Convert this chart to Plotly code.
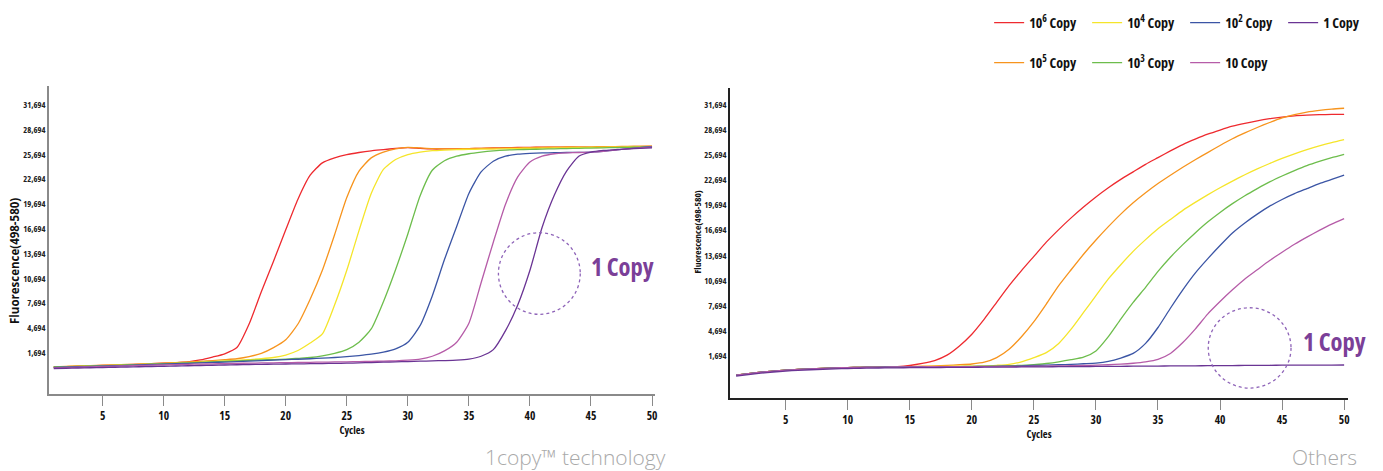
import plotly.graph_objects as go

cycles = list(range(1, 51))

series_names = ["10<sup>6</sup> Copy", "10<sup>5</sup> Copy", "10<sup>4</sup> Copy",
                "10<sup>3</sup> Copy", "10<sup>2</sup> Copy", "10 Copy", "1 Copy"]
series_colors = ["#ee2a2f", "#f7941d", "#f5e52a", "#6dbd4c", "#3b55a5", "#b65ca8", "#6a3494"]

# Left chart: 1copy technology
left_1e6 = [0, 40, 90, 150, 200, 240, 290, 340, 400, 460,
            530, 620, 850, 1200, 1600, 2350, 5200, 9100, 12800, 16600,
            20300, 23200, 24700, 25300, 25700, 25950, 26150, 26300, 26450, 26550,
            26450, 26380, 26380, 26400, 26430, 26460, 26500, 26530, 26560, 26580,
            26600, 26600, 26600, 26580, 26560, 26560, 26580, 26600, 26620, 26650]
left_1e5 = [0, 60, 120, 170, 210, 250, 300, 350, 410, 470,
            540, 610, 690, 780, 880, 1000, 1250, 1650, 2350, 3300,
            5200, 8200, 11700, 16000, 20500, 23700, 25300, 26000, 26400, 26580,
            26500, 26420, 26400, 26400, 26420, 26450, 26480, 26500, 26520, 26550,
            26570, 26600, 26620, 26630, 26640, 26650, 26670, 26700, 26720, 26750]
left_1e4 = [0, 40, 80, 130, 170, 210, 260, 310, 360, 420,
            480, 540, 600, 660, 730, 800, 900, 1000, 1150, 1450,
            2000, 2900, 4000, 7500, 11700, 16500, 21000, 23900, 25100, 25700,
            26000, 26170, 26250, 26300, 26330, 26350, 26370, 26400, 26420, 26450,
            26470, 26500, 26520, 26540, 26560, 26580, 26600, 26620, 26640, 26660]
left_1e3 = [0, 30, 70, 110, 150, 190, 240, 290, 340, 390,
            440, 500, 560, 620, 680, 740, 800, 850, 900, 950,
            1050, 1150, 1350, 1650, 2100, 3000, 4600, 7900, 11800, 16100,
            20700, 23800, 24950, 25500, 25800, 26000, 26150, 26250, 26300, 26330,
            26360, 26400, 26430, 26460, 26490, 26520, 26550, 26580, 26600, 26630]
left_1e2 = [-50, -10, 30, 70, 110, 150, 200, 250, 300, 350,
            400, 450, 500, 550, 600, 650, 700, 760, 820, 880,
            940, 1000, 1080, 1150, 1250, 1380, 1550, 1800, 2200, 3000,
            5000, 8600, 13000, 17000, 21000, 23600, 24900, 25500, 25750, 25850,
            25900, 25930, 25950, 25970, 26000, 26100, 26250, 26400, 26550, 26650]
left_1e1 = [-100, -60, -20, 20, 60, 100, 140, 180, 220, 260,
            290, 320, 350, 380, 410, 440, 470, 490, 510, 530,
            550, 570, 590, 610, 630, 650, 680, 710, 750, 820,
            950, 1300, 1950, 3000, 5300, 10200, 15100, 19700, 23000, 24800,
            25500, 25800, 25900, 25950, 26000, 26100, 26250, 26400, 26500, 26600]
left_1e0 = [-180, -150, -120, -90, -60, -30, 0, 30, 60, 90,
            120, 150, 180, 210, 240, 270, 300, 320, 340, 360,
            380, 400, 420, 440, 460, 500, 540, 580, 620, 660,
            700, 740, 780, 830, 950, 1300, 2100, 4400, 7500, 11700,
            16900, 20800, 23700, 25500, 26000, 26200, 26300, 26400, 26450, 26500]

# Right chart: others
right_1e6 = [-600, -420, -250, -110, 0, 90, 160, 220, 270, 310,
             340, 365, 390, 430, 560, 800, 1150, 1800, 2900, 4300,
             6100, 8100, 10100, 11900, 13600, 15300, 16800, 18200, 19500, 20700,
             21800, 22800, 23700, 24600, 25400, 26200, 26950, 27600, 28200, 28700,
             29150, 29500, 29800, 30050, 30250, 30400, 30480, 30530, 30560, 30580]
right_1e5 = [-600, -420, -250, -110, 0, 90, 160, 220, 270, 310,
             340, 365, 385, 400, 430, 470, 520, 580, 650, 740,
             950, 1500, 2500, 4000, 5800, 7900, 10100, 12000, 13850, 15550,
             17150, 18650, 20000, 21200, 22300, 23300, 24250, 25150, 26000, 26850,
             27650, 28350, 29000, 29600, 30150, 30550, 30850, 31050, 31200, 31300]
right_1e4 = [-600, -420, -250, -110, 0, 90, 160, 220, 270, 310,
             340, 365, 385, 400, 415, 430, 445, 460, 475, 490,
             500, 580, 700, 1000, 1500, 2100, 3200, 4900, 6900, 8900,
             10900, 12600, 14200, 15600, 16900, 18000, 19100, 20050, 20950, 21800,
             22600, 23350, 24050, 24700, 25300, 25850, 26350, 26800, 27200, 27550]
right_1e3 = [-600, -420, -250, -110, 0, 90, 160, 220, 270, 310,
             340, 365, 385, 400, 410, 420, 425, 430, 435, 440,
             460, 490, 530, 580, 650, 800, 1000, 1250, 1550, 2300,
             4000, 6100, 8100, 9900, 11800, 13500, 15000, 16400, 17700, 18850,
             19900, 20850, 21700, 22500, 23200, 23850, 24450, 24950, 25400, 25800]
right_1e2 = [-600, -420, -250, -110, 0, 90, 160, 220, 270, 310,
             340, 360, 380, 395, 405, 415, 420, 425, 430, 435,
             445, 460, 480, 510, 560, 600, 650, 700, 770, 850,
             1050, 1450, 2000, 3200, 5100, 7400, 9600, 11600, 13300, 14900,
             16400, 17600, 18650, 19600, 20400, 21100, 21700, 22300, 22800, 23300]
right_1e1 = [-600, -420, -250, -110, 0, 90, 160, 220, 270, 310,
             340, 360, 375, 390, 400, 405, 410, 415, 420, 425,
             430, 440, 450, 460, 470, 490, 510, 540, 570, 600,
             650, 720, 830, 1000, 1300, 2000, 3300, 4900, 6700, 8200,
             9600, 10900, 12000, 13100, 14100, 15050, 15900, 16700, 17450, 18100]
right_1e0 = [-700, -520, -360, -220, -110, -20, 50, 110, 160, 200,
             230, 255, 270, 285, 295, 305, 315, 325, 335, 345,
             355, 365, 375, 385, 395, 405, 415, 425, 435, 445,
             455, 465, 475, 485, 495, 505, 515, 525, 535, 545,
             555, 565, 575, 585, 595, 600, 605, 610, 615, 620]

left_series = [left_1e6, left_1e5, left_1e4, left_1e3, left_1e2, left_1e1, left_1e0]
right_series = [right_1e6, right_1e5, right_1e4, right_1e3, right_1e2, right_1e1, right_1e0]

y_tick_vals = [1694, 4694, 7694, 10694, 13694, 16694, 19694, 22694, 25694, 28694, 31694]
y_tick_text = ["1,694", "4,694", "7,694", "10,694", "13,694", "16,694",
               "19,694", "22,694", "25,694", "28,694", "31,694"]
x_tick_vals = [5, 10, 15, 20, 25, 30, 35, 40, 45, 50]
x_tick_text = ["5", "10", "15", "20", "25", "30", "35", "40", "45", "50"]

# legend rows: top row and bottom row (by index into series)
legend_row1 = [0, 2, 4, 6]
legend_row2 = [1, 3, 5]

W, H = 1383, 471
COND = "Open Sans, DejaVu Sans, sans-serif"   # rendered condensed (see post script)
WIDE = "Open Sans, sans-serif"
ANN_COLOR = "#7b3f98"


def cfont(size, color="#111111"):
    return dict(family=COND, size=size, color=color, weight="bold")


fig = go.Figure()

for i, (name, col) in enumerate(zip(series_names, series_colors)):
    fig.add_trace(go.Scatter(
        x=cycles, y=left_series[i], mode="lines", name=name,
        line=dict(color=col, width=1.3, shape="spline", smoothing=0.6),
        xaxis="x", yaxis="y", showlegend=False, hoverinfo="skip"))

for i, (name, col) in enumerate(zip(series_names, series_colors)):
    fig.add_trace(go.Scatter(
        x=cycles, y=right_series[i], mode="lines", name=name,
        line=dict(color=col, width=1.3, shape="spline", smoothing=0.6),
        xaxis="x2", yaxis="y2", showlegend=True,
        legend="legend" if i in legend_row1 else "legend2",
        hoverinfo="skip"))

for k, i in enumerate(legend_row1):
    fig.data[7 + i].legendrank = k + 1
for k, i in enumerate(legend_row2):
    fig.data[7 + i].legendrank = k + 1


def px_x(p):
    return p / W


def px_y(p):
    return 1 - p / H


axis_common = dict(showgrid=False, zeroline=False, showline=True, mirror=False)

fig.update_layout(
    width=W, height=H,
    margin=dict(l=0, r=0, t=0, b=0),
    paper_bgcolor="white", plot_bgcolor="white",
    xaxis=dict(**axis_common, domain=[px_x(49), px_x(657)], range=[0.6, 50.25],
               linecolor="#8a8a8a", linewidth=1.5,
               ticks="outside", ticklen=10, tickwidth=1.3, tickcolor="#8a8a8a",
               tickvals=x_tick_vals, ticktext=x_tick_text, tickfont=cfont(11.5),
               title=dict(text="Cycles", font=cfont(10.5), standoff=1),
               anchor="y"),
    yaxis=dict(**axis_common, domain=[px_y(394), px_y(86)], range=[-3267, 33997],
               linecolor="#8a8a8a", linewidth=1.5, ticks="",
               tickvals=y_tick_vals, ticktext=y_tick_text, tickfont=cfont(8.5, "#222222"),
               anchor="x"),
    xaxis2=dict(**axis_common, domain=[px_x(732), px_x(1352)], range=[0.5, 50.32],
                linecolor="#222222", linewidth=1.5,
                ticks="outside", ticklen=10, tickwidth=1.3, tickcolor="#8a8a8a",
                tickvals=x_tick_vals, ticktext=x_tick_text, tickfont=cfont(11.5),
                title=dict(text="Cycles", font=cfont(10.5), standoff=1),
                anchor="y2"),
    yaxis2=dict(**axis_common, domain=[px_y(398), px_y(88)], range=[-3325, 33720],
                linecolor="#222222", linewidth=1.5, ticks="",
                tickvals=y_tick_vals, ticktext=y_tick_text, tickfont=cfont(8.5, "#222222"),
                anchor="x2"),
    legend=dict(orientation="h", x=px_x(992), xanchor="left", y=px_y(7), yanchor="top",
                font=cfont(14), bgcolor="rgba(0,0,0,0)", borderwidth=0, itemwidth=30,
                entrywidth=53, entrywidthmode="pixels", traceorder="normal"),
    legend2=dict(orientation="h", x=px_x(992), xanchor="left", y=px_y(47), yanchor="top",
                 font=cfont(14), bgcolor="rgba(0,0,0,0)", borderwidth=0, itemwidth=30,
                 entrywidth=53, entrywidthmode="pixels", traceorder="normal"),
    showlegend=True,
)

# dotted circles highlighting the 1-copy curve
fig.add_shape(type="circle", xref="x", yref="y", x0=37.42, x1=44.12, y0=6376, y1=16250,
              line=dict(color="#8e63b8", width=1.3, dash="dot"))
fig.add_shape(type="circle", xref="x2", yref="y2", x0=39.05, x1=45.72, y0=-2140, y1=7460,
              line=dict(color="#8e63b8", width=1.3, dash="dot"))

fig.add_annotation(x=44.1, y=12100, xref="x", yref="y", text="1 Copy", showarrow=False,
                   xanchor="left", yanchor="middle", font=cfont(24.5, ANN_COLOR))
fig.add_annotation(x=45.8, y=3400, xref="x2", yref="y2", text="1 Copy", showarrow=False,
                   xanchor="left", yanchor="middle", font=cfont(24.5, ANN_COLOR))

# y axis titles
fig.add_annotation(x=px_x(14), y=px_y(261), xref="paper", yref="paper",
                   text="Fluorescence(498-580)", textangle=-90, showarrow=False,
                   xanchor="center", yanchor="middle",
                   font=dict(family=WIDE, size=11.5, color="#111111", weight="bold"))
fig.add_annotation(x=px_x(699), y=px_y(232), xref="paper", yref="paper",
                   text="Fluorescence(498-580)", textangle=-90, showarrow=False,
                   xanchor="center", yanchor="middle", font=cfont(9.5))

# captions
cap_font = dict(family="Open Sans, Lato, sans-serif", size=21, color="#a9a9a9", weight=300)
fig.add_annotation(x=px_x(670), y=px_y(457), xref="paper", yref="paper",
                   text="1copy™ technology", showarrow=False,
                   xanchor="right", yanchor="middle", font=cap_font)
fig.add_annotation(x=px_x(1363), y=px_y(457), xref="paper", yref="paper",
                   text="Others", showarrow=False,
                   xanchor="right", yanchor="middle", font=cap_font)

post = """
document.documentElement.style.margin='0';
document.documentElement.style.overflow='hidden';
document.body.style.margin='0';
document.body.style.overflow='hidden';
document.querySelectorAll('text').forEach(function(t){
  var ff = (t.style.fontFamily || '') + (t.getAttribute('font-family') || '');
  if (ff.indexOf('DejaVu') >= 0) { t.style.fontStretch = '75%'; }
});
"""
fig.write_html("out.html", post_script=post, config={"displayModeBar": False})
